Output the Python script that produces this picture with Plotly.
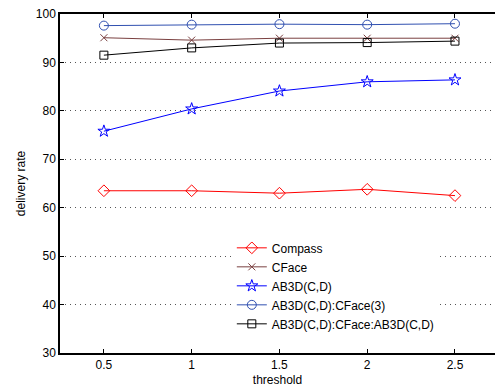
import plotly.graph_objects as go

thresholds = [0.5, 1, 1.5, 2, 2.5]
compass = [63.5, 63.5, 63.0, 63.8, 62.5]
cface = [95.1, 94.6, 95.0, 95.0, 95.0]
ab3d = [75.8, 80.4, 84.1, 86.0, 86.4]
ab3d_cface3 = [97.6, 97.8, 97.9, 97.8, 98.0]
ab3d_cface_ab3d = [91.5, 93.0, 94.0, 94.1, 94.4]

series = [
    ("Compass", compass, "#ff0000", "diamond-open", 9),
    ("CFace", cface, "#7a4040", "x-thin-open", 7),
    ("AB3D(C,D)", ab3d, "#0000ff", "star-open", 9),
    ("AB3D(C,D):CFace(3)", ab3d_cface3, "#3050b0", "circle-open", 9),
    ("AB3D(C,D):CFace:AB3D(C,D)", ab3d_cface_ab3d, "#000000", "square-open", 8),
]

fig = go.Figure()
for name, vals, color, sym, size in series:
    fig.add_trace(go.Scatter(
        x=thresholds, y=vals, name=name, mode="lines+markers",
        line=dict(color=color, width=1),
        marker=dict(symbol=sym, size=size, color=color, line=dict(color=color, width=1)),
    ))

fig.update_layout(
    width=495, height=390,
    margin=dict(l=60, r=0, t=14, b=37),
    plot_bgcolor="white", paper_bgcolor="white",
    font=dict(family="Liberation Sans, Arial, sans-serif", size=12, color="black"),
    showlegend=True,
    legend=dict(x=0.395, y=0.353, xanchor="left", yanchor="top",
                bgcolor="white", borderwidth=0, font=dict(size=12),
                tracegroupgap=0, itemsizing="trace"),
)
fig.update_xaxes(
    range=[0.25, 2.728], tickvals=thresholds, ticktext=["0.5", "1", "1.5", "2", "2.5"],
    showline=True, linecolor="black", linewidth=1.5, mirror="ticks",
    ticks="inside", ticklen=4, tickcolor="black", showgrid=False, zeroline=False,
    title=dict(text="threshold", font=dict(size=12), standoff=4),
)
fig.update_yaxes(
    range=[30, 100], tickvals=[30, 40, 50, 60, 70, 80, 90, 100],
    showline=True, linecolor="black", linewidth=1.5, mirror=False,
    ticks="inside", ticklen=4, tickcolor="black",
    showgrid=True, gridcolor="#555555", griddash="1px,4px", gridwidth=1, zeroline=False,
    title=dict(text="delivery rate", font=dict(size=12), standoff=8),
)

fig.write_html("out.html")
